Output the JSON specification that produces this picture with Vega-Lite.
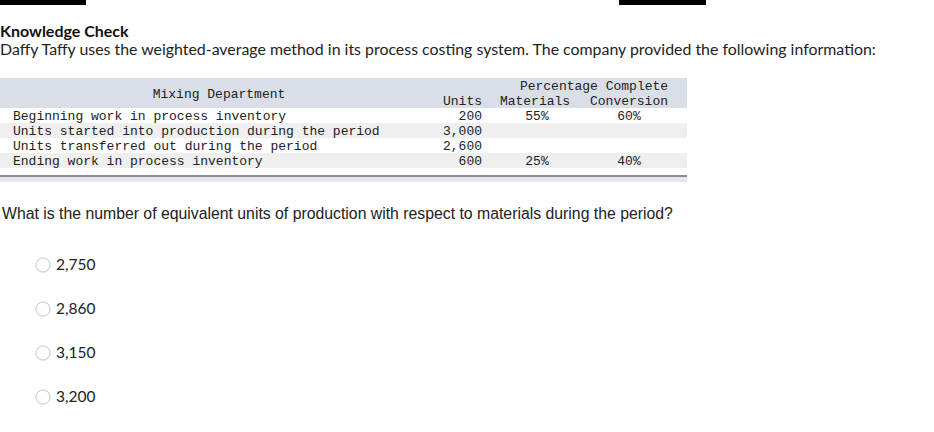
{
  "$schema": "https://vega.github.io/schema/vega-lite/v6.json",
  "autosize": {"type": "fit", "contains": "padding"},
  "width": 934,
  "height": 432,
  "padding": 0,
  "background": "white",
  "config": {"view": {"stroke": null}},
  "datasets": {
    "blackbars": [{"x": 0, "x2": 86, "y": 0, "y2": 5}, {"x": 619, "x2": 706, "y": 0, "y2": 5}],
    "header": [{"x": 0, "x2": 687, "y": 78, "y2": 108}],
    "stripes": [{"x": 0, "x2": 687, "y": 123, "y2": 138}, {"x": 0, "x2": 687, "y": 153, "y2": 168}],
    "rule": [{"x": 0, "x2": 687, "y": 175, "y2": 177}],
    "footband": [{"x": 0, "x2": 687, "y": 177, "y2": 182}],
    "title": [{"x": 0, "y": 32, "text": "Knowledge Check"}],
    "intro": [{"x": 0, "y": 50, "text": "Daffy Taffy uses the weighted-average method in its process costing system. The company provided the following information:"}],
    "question": [{"x": 2, "y": 214, "text": "What is the number of equivalent units of production with respect to materials during the period?"}],
    "tableLeft": [
      {"x": 13, "y": 116, "text": "Beginning work in process inventory"},
      {"x": 13, "y": 131, "text": "Units started into production during the period"},
      {"x": 13, "y": 146, "text": "Units transferred out during the period"},
      {"x": 13, "y": 161, "text": "Ending work in process inventory"}
    ],
    "tableRight": [
      {"x": 482, "y": 101, "text": "Units"},
      {"x": 482, "y": 116, "text": "200"},
      {"x": 482, "y": 131, "text": "3,000"},
      {"x": 482, "y": 146, "text": "2,600"},
      {"x": 482, "y": 161, "text": "600"}
    ],
    "tableCenter": [
      {"x": 219, "y": 94, "text": "Mixing Department"},
      {"x": 594, "y": 86, "text": "Percentage Complete"},
      {"x": 535, "y": 101, "text": "Materials"},
      {"x": 629, "y": 101, "text": "Conversion"},
      {"x": 537, "y": 116, "text": "55%"},
      {"x": 629, "y": 116, "text": "60%"},
      {"x": 537, "y": 161, "text": "25%"},
      {"x": 629, "y": 161, "text": "40%"}
    ],
    "options": [
      {"x": 43, "y": 265, "tx": 56, "text": "2,750"},
      {"x": 43, "y": 309, "tx": 56, "text": "2,860"},
      {"x": 43, "y": 353, "tx": 56, "text": "3,150"},
      {"x": 43, "y": 397, "tx": 56, "text": "3,200"}
    ]
  },
  "encoding": {
    "x": {"field": "x", "type": "quantitative", "scale": {"domain": [0, 934]}, "axis": null},
    "y": {"field": "y", "type": "quantitative", "scale": {"domain": [0, 432], "reverse": true}, "axis": null}
  },
  "layer": [
    {"data": {"name": "blackbars"}, "mark": {"type": "rect", "color": "#000000"}, "encoding": {"x2": {"field": "x2"}, "y2": {"field": "y2"}}},
    {"data": {"name": "header"}, "mark": {"type": "rect", "color": "#dadee7"}, "encoding": {"x2": {"field": "x2"}, "y2": {"field": "y2"}}},
    {"data": {"name": "stripes"}, "mark": {"type": "rect", "color": "#efefef"}, "encoding": {"x2": {"field": "x2"}, "y2": {"field": "y2"}}},
    {"data": {"name": "rule"}, "mark": {"type": "rect", "color": "#8c8c8c"}, "encoding": {"x2": {"field": "x2"}, "y2": {"field": "y2"}}},
    {"data": {"name": "footband"}, "mark": {"type": "rect", "color": "#e4e7ee"}, "encoding": {"x2": {"field": "x2"}, "y2": {"field": "y2"}}},
    {"data": {"name": "title"}, "mark": {"type": "text", "align": "left", "baseline": "middle", "font": "Lato", "fontSize": 16, "fontWeight": "bold", "color": "#111111"}, "encoding": {"text": {"field": "text"}}},
    {"data": {"name": "intro"}, "mark": {"type": "text", "align": "left", "baseline": "middle", "font": "Lato", "fontSize": 15.9, "color": "#222222"}, "encoding": {"text": {"field": "text"}}},
    {"data": {"name": "question"}, "mark": {"type": "text", "align": "left", "baseline": "middle", "font": "Liberation Sans", "fontSize": 15.8, "color": "#222222"}, "encoding": {"text": {"field": "text"}}},
    {"data": {"name": "tableLeft"}, "mark": {"type": "text", "align": "left", "baseline": "middle", "font": "Liberation Mono", "fontSize": 13, "color": "#222222"}, "encoding": {"text": {"field": "text"}}},
    {"data": {"name": "tableRight"}, "mark": {"type": "text", "align": "right", "baseline": "middle", "font": "Liberation Mono", "fontSize": 13, "color": "#222222"}, "encoding": {"text": {"field": "text"}}},
    {"data": {"name": "tableCenter"}, "mark": {"type": "text", "align": "center", "baseline": "middle", "font": "Liberation Mono", "fontSize": 13, "color": "#222222"}, "encoding": {"text": {"field": "text"}}},
    {"data": {"name": "options"}, "mark": {"type": "point", "shape": "circle", "filled": false, "size": 200, "stroke": "#aaaaaa", "strokeWidth": 1}},
    {"data": {"name": "options"}, "mark": {"type": "text", "align": "left", "baseline": "middle", "font": "Lato", "fontSize": 15.5, "color": "#222222"}, "encoding": {"x": {"field": "tx", "type": "quantitative"}, "text": {"field": "text"}}}
  ]
}
